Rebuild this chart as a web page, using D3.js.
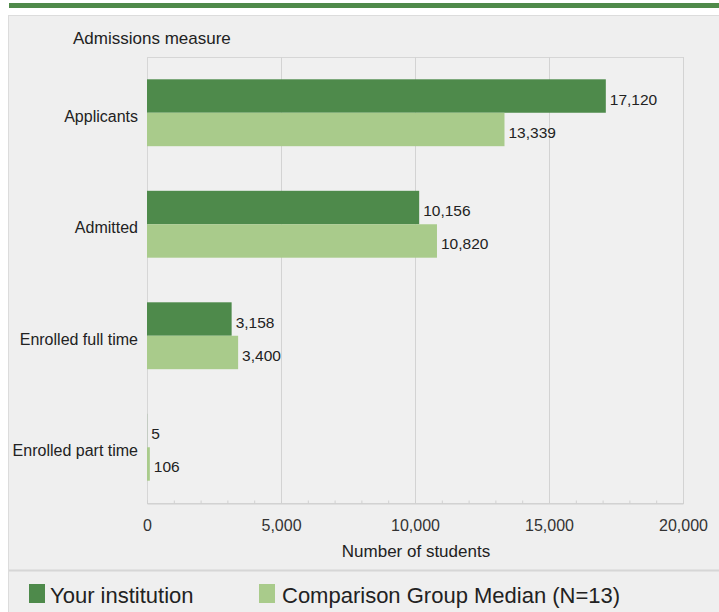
<!DOCTYPE html>
<html>
<head>
<meta charset="utf-8">
<script src="https://cdn.jsdelivr.net/npm/d3@7"></script>
<style>
  html, body { margin: 0; padding: 0; background: #ffffff; }
  svg { display: block; font-family: "Liberation Sans", Arial, sans-serif; }
</style>
</head>
<body>
<svg id="chart" width="719" height="612"></svg>
<script>
const categories = ["Applicants", "Admitted", "Enrolled full time", "Enrolled part time"];
const seriesNames = ["Your institution", "Comparison Group Median (N=13)"];
const yourInstitution = [17120, 10156, 3158, 5];
const comparisonMedian = [13339, 10820, 3400, 106];
const xTicks = [0, 5000, 10000, 15000, 20000];
const minorTicks = d3.range(0, 20001, 1000);
const colors = ["#4e8a4b", "#a9cb8b"];
const seriesValues = [yourInstitution, comparisonMedian];

(function () {
const svg = d3.select("#chart");

// top green rule
svg.append("rect").attr("x", 9).attr("y", 3).attr("width", 710).attr("height", 5).attr("fill", "#4f8a4a");
// grey panel
svg.append("rect").attr("x", 8.5).attr("y", 15.5).attr("width", 712).attr("height", 600)
  .attr("fill", "#efefef").attr("stroke", "#dcdcdc");

const pLeft = 147, pRight = 683, pTop = 57, pBottom = 503;
const x = d3.scaleLinear().domain([0, 20000]).range([pLeft, pRight]);
const y = d3.scaleBand().domain(categories).range([pTop, pBottom]).paddingInner(0.4).paddingOuter(0.2);
const ys = d3.scaleBand().domain([0, 1]).range([0, y.bandwidth()]);

// plot frame
svg.append("rect").attr("x", pLeft + 0.5).attr("y", pTop + 0.5).attr("width", pRight - pLeft).attr("height", pBottom - pTop)
  .attr("fill", "#f0f0f0").attr("stroke", "#d6d6d6");

// gridlines
svg.append("g").selectAll("line").data(xTicks.slice(1)).join("line")
  .attr("x1", d => Math.round(x(d)) + 0.5).attr("x2", d => Math.round(x(d)) + 0.5)
  .attr("y1", pTop).attr("y2", pBottom).attr("stroke", "#d3d3d3");

// bottom axis with minor ticks
const axisG = svg.append("g").attr("transform", `translate(0,${pBottom + 0.5})`);
axisG.call(d3.axisBottom(x).tickValues(minorTicks).tickSize(-3).tickFormat(""))
  .call(g => g.select(".domain").attr("stroke", "#cfcfcf"))
  .call(g => g.selectAll(".tick line").attr("stroke", "#d0d0d0"));
const axisL = svg.append("g").attr("transform", `translate(0,${pBottom})`);
axisL.call(d3.axisBottom(x).tickValues(xTicks).tickSize(0).tickPadding(17).tickFormat(d3.format(",")))
  .call(g => g.select(".domain").remove())
  .call(g => g.selectAll("text").attr("font-size", 16).attr("fill", "#333").attr("font-family", "Liberation Sans, Arial, sans-serif"));

// bars
const groups = svg.append("g").selectAll("g").data(categories).join("g")
  .attr("transform", d => `translate(0,${y(d)})`);
groups.selectAll("rect").data((d, i) => seriesValues.map((s, k) => ({k, v: s[i]}))).join("rect")
  .attr("x", x(0)).attr("y", d => ys(d.k)).attr("height", ys.bandwidth())
  .attr("width", d => x(d.v) - x(0)).attr("fill", d => colors[d.k]);
groups.selectAll("text").data((d, i) => seriesValues.map((s, k) => ({k, v: s[i]}))).join("text")
  .attr("x", d => x(d.v) + 4).attr("y", d => ys(d.k) + ys.bandwidth() / 2)
  .attr("dy", "0.55em").attr("font-size", 15.5).attr("fill", "#222")
  .text(d => d3.format(",")(d.v));

// category labels
svg.append("g").selectAll("text").data(categories).join("text")
  .attr("x", 138).attr("y", d => y(d) + y.bandwidth() / 2).attr("dy", "0.55em")
  .attr("text-anchor", "end").attr("font-size", 16).attr("fill", "#222").text(d => d);

// titles
svg.append("text").attr("x", 73).attr("y", 38).attr("dy", "0.35em").attr("font-size", 17).attr("fill", "#222").text("Admissions measure");
svg.append("text").attr("x", (pLeft + pRight) / 2 + 1).attr("y", 551).attr("dy", "0.35em").attr("text-anchor", "middle")
  .attr("font-size", 17).attr("fill", "#222").text("Number of students");

// separator
svg.append("line").attr("x1", 9).attr("x2", 719).attr("y1", 570.5).attr("y2", 570.5).attr("stroke", "#d6d6d6").attr("stroke-width", 2);

// legend
const legendX = [29, 259];
const lg = svg.append("g").selectAll("g").data(seriesNames).join("g")
  .attr("transform", (d, i) => `translate(${legendX[i]},584)`);
lg.append("rect").attr("width", 16).attr("height", 19).attr("fill", (d, i) => colors[i]);
lg.append("text").attr("x", (d, i) => i === 0 ? 21 : 23).attr("y", 19)
  .attr("font-size", 22).attr("fill", "#222").text(d => d);
})();
</script>
</body>
</html>
